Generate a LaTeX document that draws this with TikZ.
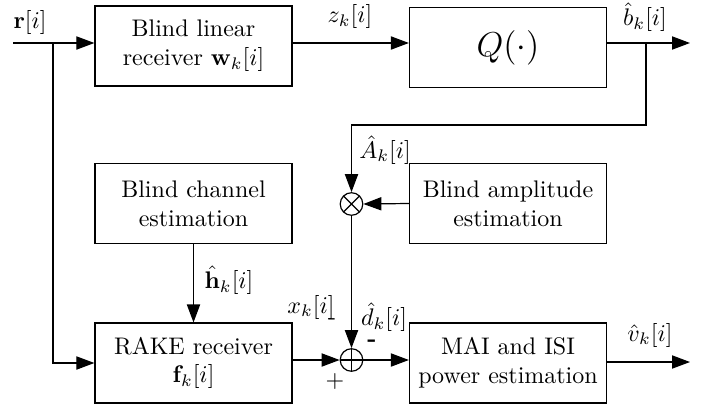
\documentclass[tikz,border=0pt]{standalone}
\usetikzlibrary{arrows.meta}
\begin{document}
\begin{tikzpicture}[x=0.4167pt,y=-0.4167pt, line width=0.5pt,
  blk/.style={draw, minimum width=82.1pt, minimum height=33.3pt, align=center, inner sep=0pt},
  arr/.style={-{Triangle[length=7.5pt,width=5.5pt]}},
  mixer/.style={draw, circle, minimum size=9.4pt, inner sep=0pt},
  mult/.style={mixer, path picture={\draw (path picture bounding box.north west) -- (path picture bounding box.south east)
      (path picture bounding box.north east) -- (path picture bounding box.south west);}},
  summ/.style={mixer, path picture={\draw (path picture bounding box.north) -- (path picture bounding box.south)
      (path picture bounding box.west) -- (path picture bounding box.east);}},
  lbl/.style={inner sep=0pt}]
\useasboundingbox (0,0) rectangle (708,412);

\node[blk] (W) at (193.5,46) {Blind linear\\receiver $\mathbf{w}_k[i]$};
\node[blk] (Q) at (508,47.5) {\Large $Q(\cdot)$};
\node[blk] (C) at (193.5,203.5) {Blind channel\\estimation};
\node[blk] (A) at (508,203.5) {Blind amplitude\\estimation};
\node[blk] (R) at (193.5,363) {RAKE receiver\\$\mathbf{f}_k[i]$};
\node[blk] (M) at (508,363) {MAI and ISI\\power estimation};
\node[mult] (X) at (351.5,204) {};
\node[summ] (S) at (351.5,360) {};

\coordinate (in) at (13,43);
\coordinate (br) at (53,43);
\coordinate (out1) at (690,43);
\coordinate (fb) at (646,43);
\coordinate (fbc) at (646,125);
\coordinate (out2) at (690,362);

\draw[arr] (in) -- (in -| W.west);
\draw[arr] (br) |- (R.west);
\draw[arr] (W.east |- in) -- (Q.west |- in);
\draw[arr] (Q.east |- in) -- (out1);
\draw[arr] (fb) -- (fbc) -| (X.north);
\draw[arr] (A.west) -- (X.east);
\draw[arr] (X.south) -- (S.north);
\draw[arr] (C.south) -- (R.north);
\draw[arr] (R.east |- S) -- (S.west);
\draw[arr] (S.east) -- (M.west |- S);
\draw[arr] (M.east |- out2) -- (out2);

\node[lbl] (lr) at (30,22) {$\mathbf{r}[i]$};
\node[lbl] (lz) at (350,17) {$z_k[i]$};
\node[lbl] (lb) at (645,17) {$\hat{b}_k[i]$};
\node[lbl] (la) at (385,150) {$\hat{A}_k[i]$};
\node[lbl] (lh) at (229,280) {$\hat{\mathbf{h}}_k[i]$};
\node[lbl] (lx) at (311,307) {$x_k[i]$};
\node[lbl] (lxm) at (332,322) {-};
\node[lbl] (ld) at (384,317) {$\hat{d}_k[i]$};
\node[lbl] (lm) at (372,343) {\textbf{-}};
\node[lbl] (lp) at (335,381) {$+$};
\node[lbl] (lv) at (650,335) {$\hat{v}_k[i]$};
\end{tikzpicture}
\end{document}
